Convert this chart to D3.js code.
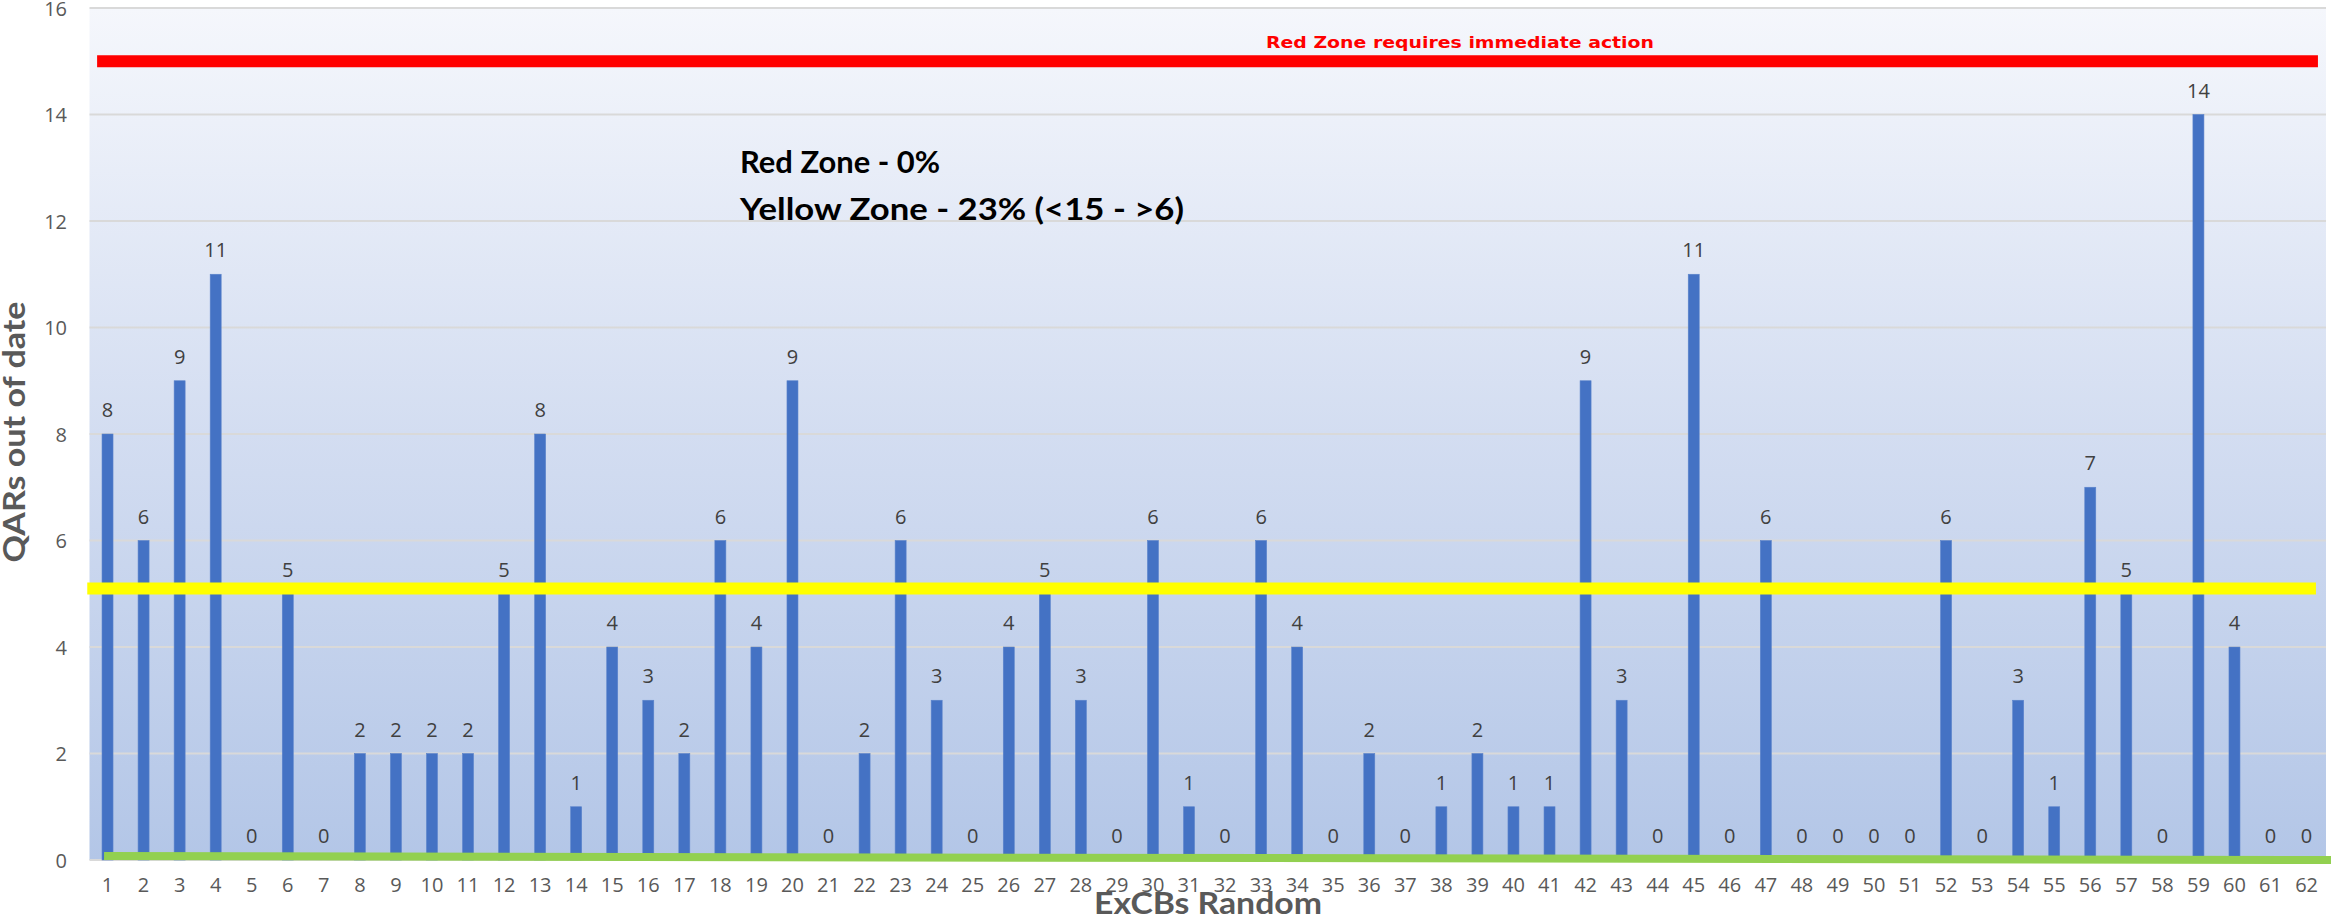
<!DOCTYPE html>
<html>
<head>
<meta charset="utf-8">
<script src="https://cdn.jsdelivr.net/npm/d3@7"></script>
<style>
  html, body { margin: 0; padding: 0; background: #fff; }
  svg { display: block; }
</style>
</head>
<body>
<svg id="chart" width="2331" height="923"></svg>
<script>
// ---- data ----
const categories = d3.range(1, 63).map(String);
const values = [8,6,9,11,0,5,0,2,2,2,2,5,8,1,4,3,2,6,4,9,0,2,6,3,0,4,5,3,0,6,1,0,6,4,0,2,0,1,2,1,1,9,3,0,11,0,6,0,0,0,0,6,0,3,1,7,5,0,14,4,0,0];
const yTicks = [0,2,4,6,8,10,12,14,16];
const redZoneLevel = 15;
const yellowZoneLevel = [5.1, 5.1];      // left, right
const greenLevel = [0.075, 0.0];         // left, right
const redZoneLabel = "Red Zone requires immediate action";
const annotationLines = ["Red Zone - 0%", "Yellow Zone - 23% (<15 - >6)"];
const yTitle = "QARs out of date";
const xTitle = "ExCBs Random";

// ---- layout ----
const plot = { left: 89.5, right: 2326, top: 8, bottom: 860 };
const svg = d3.select("#chart");

const x = d3.scaleBand()
  .domain(categories)
  .range([plot.left, plot.left + 62 * 36.05])
  .paddingInner(0.695)
  .paddingOuter(0.3475);
const y = d3.scaleLinear().domain([0, 16]).range([plot.bottom, plot.top]);
// fractional horizontal position across the plot (for the reference lines)
const xf = d3.scaleLinear().domain([0, 1]).range([plot.left, plot.right]);

// background gradient
const defs = svg.append("defs");
const grad = defs.append("linearGradient").attr("id", "bg")
  .attr("x1", 0).attr("y1", 0).attr("x2", 0).attr("y2", 1);
grad.append("stop").attr("offset", "0%").attr("stop-color", "#F5F7FC");
grad.append("stop").attr("offset", "50%").attr("stop-color", "#D3DDF1");
grad.append("stop").attr("offset", "100%").attr("stop-color", "#B3C6E7");

svg.append("rect")
  .attr("x", plot.left).attr("y", plot.top)
  .attr("width", plot.right - plot.left).attr("height", plot.bottom - plot.top)
  .attr("fill", "url(#bg)");

// gridlines
svg.append("g").selectAll("line").data(yTicks).join("line")
  .attr("x1", plot.left).attr("x2", plot.right)
  .attr("y1", d => y(d)).attr("y2", d => y(d))
  .attr("stroke", "#D9D9D9").attr("stroke-width", 2);

// y axis labels
const yAxis = d3.axisLeft(y).tickValues(yTicks).tickSize(0).tickPadding(0);
const gy = svg.append("g").attr("transform", `translate(67,0)`).call(yAxis);
gy.select(".domain").remove();
gy.selectAll("text")
  .attr("font-family", "Open Sans, sans-serif").attr("font-size", 20)
  .attr("fill", "#595959").attr("text-anchor", "end").attr("dy", "0.35em");

// x axis labels
const xAxis = d3.axisBottom(x).tickSize(0).tickPadding(0);
const gx = svg.append("g").attr("transform", `translate(0,878)`).call(xAxis);
gx.select(".domain").remove();
gx.selectAll("text")
  .attr("font-family", "Open Sans, sans-serif").attr("font-size", 20)
  .attr("fill", "#595959").attr("dy", "0.71em");

// bars
const data = categories.map((c, i) => ({ c, v: values[i] }));
svg.append("g").selectAll("rect").data(data).join("rect")
  .attr("x", d => x(d.c)).attr("width", x.bandwidth())
  .attr("y", d => y(d.v)).attr("height", d => y(0) - y(d.v))
  .attr("fill", "#4472C4")
  .attr("stroke", "#5A83CB").attr("stroke-width", 0.6);

// value labels
svg.append("g").selectAll("text").data(data).join("text")
  .attr("x", d => x(d.c) + x.bandwidth() / 2)
  .attr("y", d => y(d.v) - 17)
  .attr("text-anchor", "middle")
  .attr("font-family", "Open Sans, sans-serif").attr("font-size", 20)
  .attr("fill", "#404040")
  .text(d => d.v);

// red line
svg.append("line")
  .attr("x1", xf(0.0034)).attr("x2", xf(0.9964))
  .attr("y1", y(redZoneLevel)).attr("y2", y(redZoneLevel))
  .attr("stroke", "#FF0000").attr("stroke-width", 12);
svg.append("text")
  .attr("x", 1460).attr("y", 48)
  .attr("text-anchor", "middle")
  .attr("font-family", "DejaVu Sans, sans-serif").attr("font-weight", "bold")
  .attr("font-size", 16.5).attr("fill", "#FF0000")
  .attr("textLength", 388).attr("lengthAdjust", "spacingAndGlyphs")
  .text(redZoneLabel);

// yellow line
svg.append("line")
  .attr("x1", xf(-0.001)).attr("x2", xf(0.9955))
  .attr("y1", y(yellowZoneLevel[0])).attr("y2", y(yellowZoneLevel[1]))
  .attr("stroke", "#FFFF00").attr("stroke-width", 12);

// green line
svg.append("line")
  .attr("x1", xf(0.0065)).attr("x2", 2331)
  .attr("y1", y(greenLevel[0])).attr("y2", y(greenLevel[1]))
  .attr("stroke", "#92D050").attr("stroke-width", 8);

// annotation
const ann = svg.append("g");
const annWidths = [200, 444];
annotationLines.forEach((t, i) => {
  ann.append("text")
    .attr("x", 740).attr("y", 173 + i * 47)
    .attr("font-family", "Lato, Open Sans, sans-serif").attr("font-weight", "bold")
    .attr("font-size", 31).attr("fill", "#000")
    .attr("textLength", annWidths[i]).attr("lengthAdjust", "spacingAndGlyphs")
    .text(t);
});

// axis titles
svg.append("text")
  .attr("transform", "translate(25,432) rotate(-90)")
  .attr("text-anchor", "middle")
  .attr("font-family", "Lato, Open Sans, sans-serif").attr("font-weight", "bold")
  .attr("font-size", 30).attr("fill", "#595959")
  .attr("textLength", 261).attr("lengthAdjust", "spacingAndGlyphs")
  .text(yTitle);
svg.append("text")
  .attr("x", 1208).attr("y", 914)
  .attr("text-anchor", "middle")
  .attr("font-family", "Lato, Open Sans, sans-serif").attr("font-weight", "bold")
  .attr("font-size", 30).attr("fill", "#595959")
  .attr("textLength", 228).attr("lengthAdjust", "spacingAndGlyphs")
  .text(xTitle);
</script>
</body>
</html>
